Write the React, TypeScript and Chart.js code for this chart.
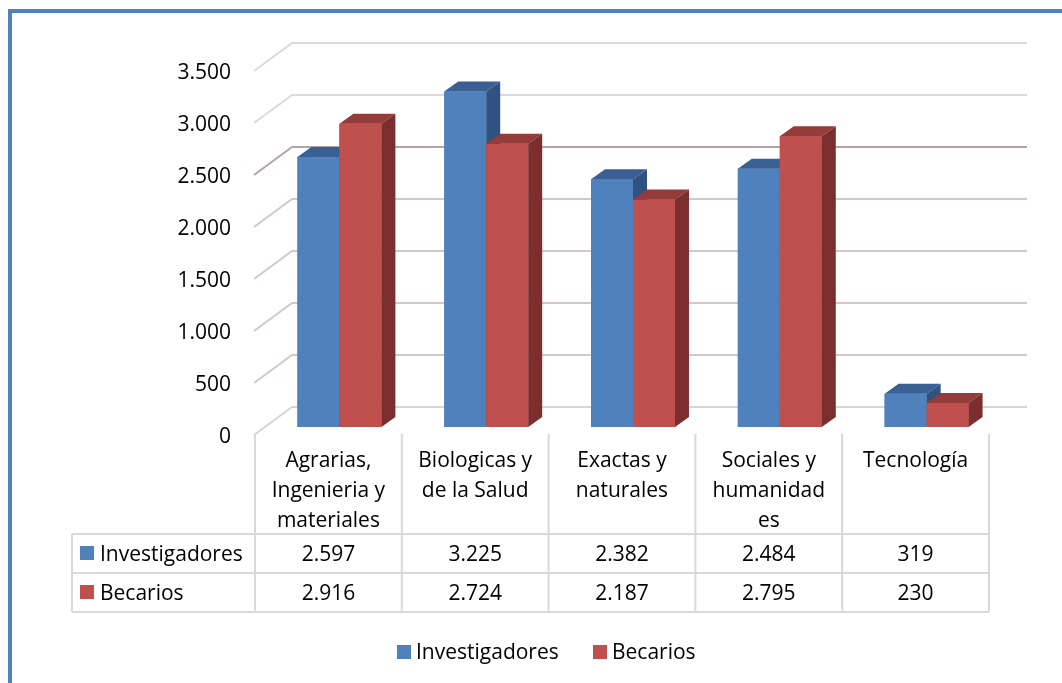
import React, { useEffect, useRef } from "react";
import { Chart, registerables } from "chart.js";

Chart.register(...registerables);

// ---- data ----
const categoryLines: string[][] = [
  ["Agrarias,", "Ingenieria y", "materiales"],
  ["Biologicas y", "de la Salud"],
  ["Exactas y", "naturales"],
  ["Sociales y", "humanidad", "es"],
  ["Tecnología"],
];
const seriesNames = ["Investigadores", "Becarios"];
const investigadores = [2597, 3225, 2382, 2484, 319];
const becarios = [2916, 2724, 2187, 2795, 230];
const yTickValues = [0, 500, 1000, 1500, 2000, 2500, 3000, 3500];

// ---- styles ----
const FONT = '"Open Sans", sans-serif';
const FRONT = ["#4F81BD", "#C0504D"];
const TOP = ["#3A6093", "#943C3A"];
const SIDE = ["#2F5281", "#7A2F2E"];
const DX = 14;
const DY = -10;

const fmt = (v: number) => String(v).replace(/\B(?=(\d{3})+(?!\d))/g, ".");

const excel3d = {
  id: "excel3d",
  beforeDatasetsDraw(chart: any) {
    const { ctx, chartArea, scales } = chart;
    const y = scales.y;
    ctx.save();
    // frame
    ctx.fillStyle = "#4F81BD";
    ctx.fillRect(8, 9, 4, 683 - 9);
    ctx.fillRect(8, 9, 1062 - 8, 4);
    // back wall gridlines + diagonals + tick labels
    yTickValues.forEach((v) => {
      const py = y.getPixelForValue(v);
      const fx = chartArea.left - 12;
      const fy = py + 8;
      const bx = chartArea.left + 26;
      const by = py - 20;
      let col = "#D2C8CB";
      if (v >= 3000) col = "#DADADA";
      if (v === 2500) col = "#B4A4A8";
      if (v === 0) col = "#D3D6DC";
      ctx.strokeStyle = col;
      ctx.lineWidth = 2;
      ctx.beginPath();
      ctx.moveTo(fx, fy);
      ctx.lineTo(bx, by);
      ctx.lineTo(chartArea.right + 27, by);
      ctx.stroke();
      ctx.fillStyle = "#000";
      ctx.font = `21px ${FONT}`;
      ctx.textAlign = "right";
      ctx.textBaseline = "alphabetic";
      ctx.fillText(fmt(v), 231, fy + 8);
    });
    ctx.restore();
  },
  afterDatasetsDraw(chart: any) {
    const { ctx } = chart;
    ctx.save();
    const metas = [chart.getDatasetMeta(0), chart.getDatasetMeta(1)];
    for (let i = 0; i < categoryLines.length; i++) {
      metas.forEach((meta: any, d: number) => {
        const bar = meta.data[i];
        const { x, y, base, width } = bar.getProps(["x", "y", "base", "width"], true);
        const l = x - width / 2;
        const r = x + width / 2;
        ctx.fillStyle = FRONT[d];
        ctx.fillRect(l, y, width, base - y);
        ctx.fillStyle = TOP[d];
        ctx.beginPath();
        ctx.moveTo(l, y);
        ctx.lineTo(r, y);
        ctx.lineTo(r + DX, y + DY);
        ctx.lineTo(l + DX, y + DY);
        ctx.closePath();
        ctx.fill();
        ctx.fillStyle = SIDE[d];
        ctx.beginPath();
        ctx.moveTo(r, y);
        ctx.lineTo(r + DX, y + DY);
        ctx.lineTo(r + DX, base + DY);
        ctx.lineTo(r, base);
        ctx.closePath();
        ctx.fill();
      });
    }
    ctx.restore();
  },
  afterDraw(chart: any) {
    const { ctx, scales } = chart;
    const xs = scales.x;
    const n = categoryLines.length;
    const catW = xs.getPixelForValue(1) - xs.getPixelForValue(0);
    const centers = categoryLines.map((_, i) => xs.getPixelForValue(i) - 11);
    const colLeft = centers[0] - catW / 2;
    const colRight = centers[n - 1] + catW / 2;
    const tableLeft = 72;
    const headTop = 434;
    const row1 = 534;
    const row2 = 573;
    const row3 = 612;
    ctx.save();
    ctx.strokeStyle = "#D9D9D9";
    ctx.lineWidth = 2;
    ctx.beginPath();
    for (let i = 0; i <= n; i++) {
      const vx = colLeft + i * catW;
      ctx.moveTo(vx, headTop);
      ctx.lineTo(vx, row3);
    }
    ctx.moveTo(tableLeft, row1);
    ctx.lineTo(tableLeft, row3);
    [row1, row2, row3].forEach((ry) => {
      ctx.moveTo(tableLeft, ry);
      ctx.lineTo(colRight, ry);
    });
    ctx.stroke();

    ctx.fillStyle = "#000";
    ctx.font = `21px ${FONT}`;
    ctx.textAlign = "center";
    ctx.textBaseline = "alphabetic";
    categoryLines.forEach((lines, i) => {
      lines.forEach((t, k) => ctx.fillText(t, centers[i], 467 + k * 30));
    });
    const rows = [investigadores, becarios];
    const baselines = [561, 600];
    rows.forEach((vals, r) => {
      vals.forEach((v, i) => ctx.fillText(fmt(v), centers[i], baselines[r]));
      ctx.fillStyle = FRONT[r];
      ctx.fillRect(80, baselines[r] - 15, 14, 14);
      ctx.fillStyle = "#000";
      ctx.textAlign = "left";
      ctx.fillText(seriesNames[r], 100, baselines[r]);
      ctx.textAlign = "center";
    });

    // bottom legend
    ctx.textAlign = "left";
    const legX = [397, 593];
    seriesNames.forEach((name, r) => {
      ctx.fillStyle = FRONT[r];
      ctx.fillRect(legX[r], 645, 14, 14);
      ctx.fillStyle = "#000";
      ctx.fillText(name, legX[r] + 19, 659);
    });
    ctx.restore();
  },
};

export default function App() {
  const ref = useRef<HTMLCanvasElement | null>(null);
  useEffect(() => {
    if (!ref.current) return;
    const chart = new Chart(ref.current, {
      type: "bar",
      data: {
        labels: categoryLines.map((l) => l.join(" ")),
        datasets: [
          { label: seriesNames[0], data: investigadores, backgroundColor: FRONT[0], borderWidth: 0 },
          { label: seriesNames[1], data: becarios, backgroundColor: FRONT[1], borderWidth: 0 },
        ],
      },
      options: {
        responsive: false,
        animation: false,
        devicePixelRatio: 1,
        layout: { padding: { left: 266, right: 62, top: 63, bottom: 256 } },
        datasets: { bar: { categoryPercentage: 0.572, barPercentage: 1 } },
        scales: {
          x: { display: false, offset: true },
          y: { display: false, min: 0, max: 3500 },
        },
        plugins: { legend: { display: false }, tooltip: { enabled: false } },
      },
      plugins: [excel3d],
    });
    return () => chart.destroy();
  }, []);
  return (
    <div style={{ position: "absolute", left: 0, top: 0, width: 1062, height: 683, background: "#fff" }}>
      <canvas ref={ref} width={1062} height={683} style={{ display: "block" }} />
    </div>
  );
}
